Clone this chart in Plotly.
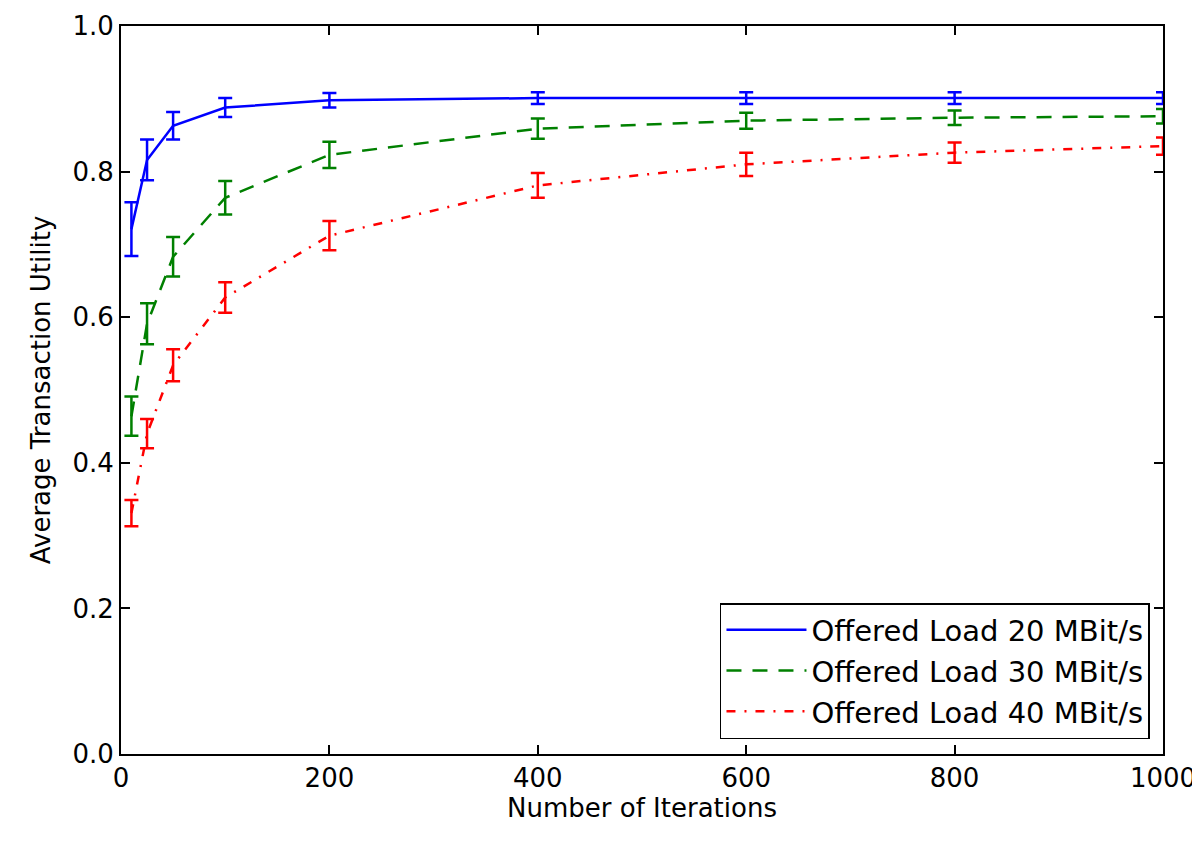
import plotly.graph_objects as go

iterations = [10, 25, 50, 100, 200, 400, 600, 800, 1000]

util_20 = [0.721, 0.816, 0.863, 0.888, 0.898, 0.901, 0.901, 0.901, 0.901]
err_20 = [0.037, 0.028, 0.019, 0.013, 0.010, 0.008, 0.008, 0.008, 0.008]

util_30 = [0.464, 0.591, 0.683, 0.764, 0.823, 0.859, 0.870, 0.874, 0.876]
err_30 = [0.027, 0.028, 0.027, 0.023, 0.018, 0.014, 0.011, 0.010, 0.010]

util_40 = [0.331, 0.440, 0.534, 0.627, 0.712, 0.781, 0.810, 0.826, 0.835]
err_40 = [0.018, 0.020, 0.022, 0.021, 0.020, 0.017, 0.016, 0.014, 0.012]

series = [
    ("Offered Load 20 MBit/s", util_20, err_20, "#0000ff", "solid"),
    ("Offered Load 30 MBit/s", util_30, err_30, "#008000", "15px,11px"),
    ("Offered Load 40 MBit/s", util_40, err_40, "#ff0000", "9px,9px,2px,9px"),
]

fig = go.Figure()
for name, y, e, color, dash in series:
    fig.add_trace(go.Scatter(
        x=iterations, y=y, name=name, mode="lines", legendgroup=name,
        line=dict(color=color, width=2.5, dash=dash),
        error_y=dict(type="data", array=e, visible=True, color=color,
                     thickness=2.5, width=7),
        cliponaxis=False,
    ))

font = dict(family="DejaVu Sans", size=26, color="black")
axis_common = dict(
    showgrid=False, zeroline=False, showline=True, linecolor="black",
    linewidth=2, mirror="ticks", ticks="inside", ticklen=9, tickwidth=1.5,
    tickcolor="black", tickfont=font, automargin=False,
    ticklabeloverflow="allow",
)

fig.update_layout(
    width=1200, height=857,
    paper_bgcolor="white", plot_bgcolor="white",
    margin=dict(l=113, r=45, t=18, b=111),
    font=font,
    xaxis=dict(range=[0, 1000], tickvals=[0, 200, 400, 600, 800, 1000],
               title=dict(text="Number of Iterations", font=font, standoff=0),
               **axis_common),
    yaxis=dict(range=[0, 1.0], tickvals=[0, 0.2, 0.4, 0.6, 0.8, 1.0],
               tickformat=".1f",
               title=dict(text="Average Transaction Utility", font=font, standoff=14),
               **axis_common),
    legend=dict(x=0.9875, y=0.0206, xanchor="right", yanchor="bottom",
                bordercolor="black", borderwidth=1.5, bgcolor="white",
                font=dict(family="DejaVu Sans", size=29, color="black"),
                tracegroupgap=0, itemwidth=80),
    showlegend=True,
)

fig.write_html("out.html")
